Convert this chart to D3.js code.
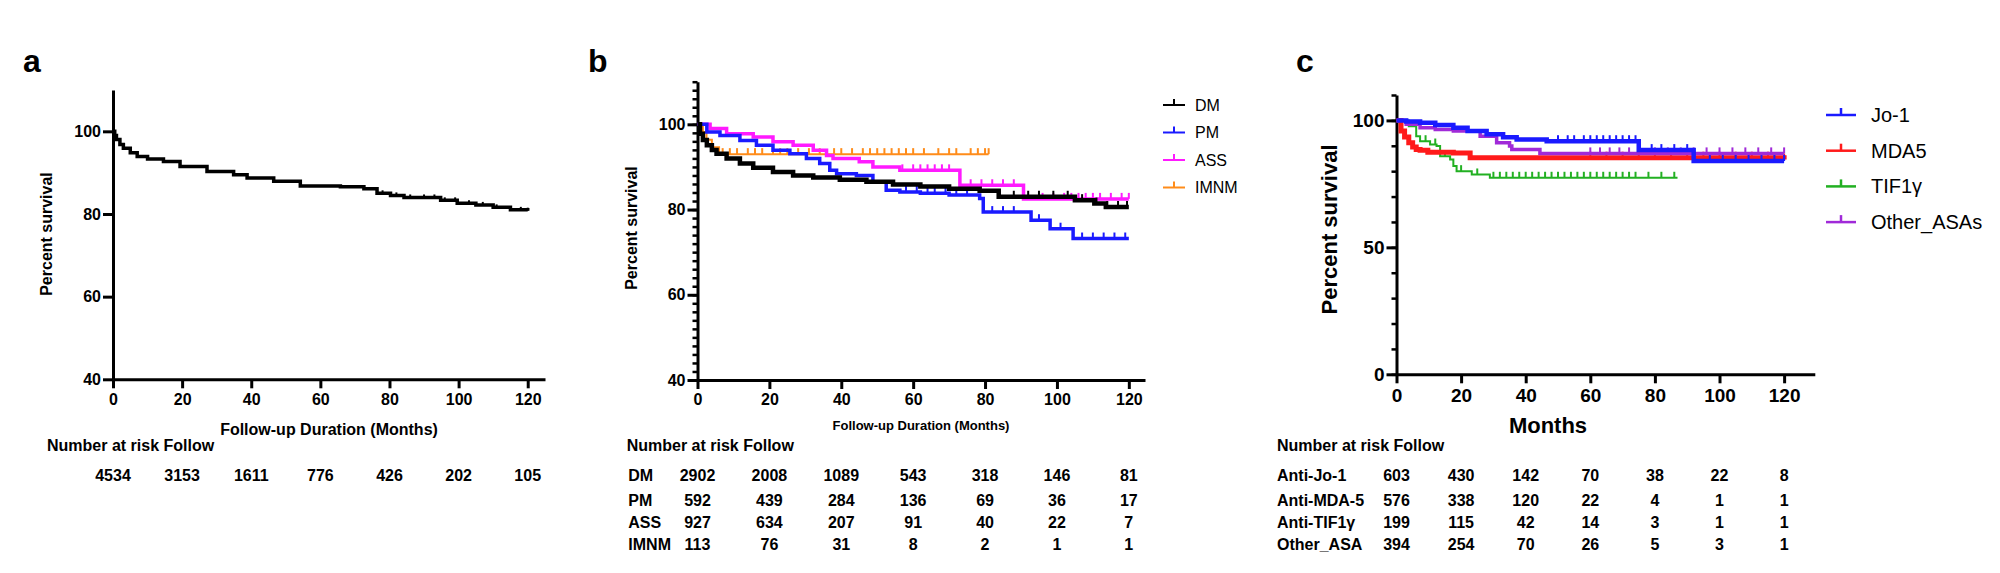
<!DOCTYPE html>
<html>
<head>
<meta charset="utf-8">
<style>
    body { margin: 0; background: #fff; }
    svg { font-family: 'Liberation Sans', Arial, Helvetica, sans-serif; }
    .axis path, .axis line { stroke: #000; stroke-width: 3px; }
    .minor line { stroke: #000; stroke-width: 2.5px; }
    .minor path { display: none; }
    .axis text { font-weight: bold; fill: #000; }
    .panel-letter { font-size: 32px; font-weight: bold; }
    .ytitle { font-weight: bold; }
    .risk { font-size: 16px; font-weight: bold; }
    .curve { fill: none; }
</style>
</head>
<body>
<svg width="2000" height="573"></svg>
<script src="https://d3js.org/d3.v7.min.js"></script>
<script>
    // ---------- data ----------
    let riskTimes = [0, 20, 40, 60, 80, 100, 120]

    // panel a: all patients
    let aTime = [0, 0.5, 1, 2, 3, 5, 7, 10, 14.6, 19.4, 27.2, 34.9, 38.8, 46.5, 54.2, 65.8, 72.6, 76.4, 80.3, 84.2, 91, 94.8, 99.6, 105, 110, 115, 120]
    let aSurv = [100, 99, 98, 96.8, 95.9, 94.8, 93.9, 93.3, 92.7, 91.5, 90.3, 89.5, 88.7, 87.9, 86.8, 86.6, 86.1, 85.0, 84.5, 84.0, 84.0, 83.3, 82.6, 82.2, 81.6, 81.0, 80.8]
    let aCens = [78, 82, 86, 90, 93, 96, 99, 103, 107, 111, 115, 118, 120]
    let aRisk = [4534, 3153, 1611, 776, 426, 202, 105]

    // panel b: subtypes
    let bGroups = ["DM", "PM", "ASS", "IMNM"]
    let bColors = ["#000000", "#1a1aff", "#ff1aff", "#ff8c1a"]
    let bWidths = [4.5, 3.5, 3.5, 2]
    let dmTime = [0, 0.7, 1.5, 2.6, 4, 5.3, 8.1, 11.8, 15.5, 21, 26.6, 32.2, 39.6, 47, 54.4, 62, 70, 78.5, 83.8, 94.4, 105, 110.4, 113.6, 120]
    let dmSurv = [100, 97.8, 96.3, 95.1, 94, 93.1, 92.0, 90.8, 89.8, 88.8, 88.0, 87.5, 87.0, 86.5, 85.9, 85.4, 84.9, 84.4, 83.0, 83.0, 82.2, 81.4, 80.6, 80.6]
    let pmTime = [0, 2.6, 6.25, 11.8, 16.4, 21, 25.7, 30.3, 34, 36.8, 38.7, 44.2, 48.8, 52.5, 56.3, 62, 70, 78.5, 79.5, 92.8, 98.1, 104.5, 120]
    let pmSurv = [100, 98.2, 97.4, 96.2, 95.1, 93.9, 93.1, 92.0, 90.8, 89.2, 88.4, 88.0, 86.5, 84.5, 84.1, 83.8, 83.4, 82.6, 79.4, 77.5, 75.5, 73.2, 73.2]
    let assTime = [0, 3.5, 8.1, 15.5, 21, 26.6, 32.2, 35.9, 37.7, 45, 48.8, 56.3, 73, 90.7, 120]
    let assSurv = [100, 99, 97.8, 97.0, 95.9, 95.1, 93.9, 92.7, 92.0, 91.2, 90.0, 89.2, 85.7, 82.5, 82.5]
    let imnmTime = [0, 1.5, 2.5, 4, 6, 81]
    let imnmSurv = [100, 98.2, 96.4, 94.6, 93.0, 93.0]
    let dmCens = [84, 88, 92, 95, 99, 103, 107, 111, 114, 117, 119.5]
    let pmCens = [58, 61, 64, 66, 69, 72, 75, 82, 85, 88, 95, 101, 107, 110, 113, 116, 119]
    let assCens = [57, 60, 62, 64, 66, 68, 70, 76, 79, 82, 85, 88, 96, 99, 102, 104, 106, 108, 110, 112, 115, 118, 120]
    let imnmCens = [7, 9, 11, 14, 16, 18, 21, 23, 25, 28, 31, 34, 38, 40, 43, 46, 48, 50, 52, 54, 56, 58, 60, 63, 67, 70, 72, 76, 78, 80, 81]
    let bRisk = [
        [2902, 2008, 1089, 543, 318, 146, 81],
        [592, 439, 284, 136, 69, 36, 17],
        [927, 634, 207, 91, 40, 22, 7],
        [113, 76, 31, 8, 2, 1, 1]
    ]

    // panel c: antibodies
    let cGroups = ["Jo-1", "MDA5", "TIF1γ", "Other_ASAs"]
    let cColors = ["#1a1aff", "#ff1a1a", "#22b022", "#a02ad8"]
    let cWidths = [4.5, 5, 2, 3.5]
    let joTime = [0, 3, 7.3, 12, 17.6, 22, 27.9, 33, 37.2, 46.5, 75, 92, 120]
    let joSurv = [100, 99.6, 99.1, 98.2, 97.1, 95.8, 94.5, 93.4, 92.5, 91.8, 88.3, 84.0, 84.0]
    let mdaTime = [0, 1.4, 2.5, 3.8, 5, 6.1, 7.3, 9.7, 17.6, 22.8, 120]
    let mdaSurv = [100, 95.8, 93.5, 91.2, 89.5, 88.5, 88.2, 87.5, 87.2, 85.3, 84.6]
    let tifTime = [0, 3.8, 6.1, 7.3, 10.4, 12.4, 13.5, 16.6, 17.6, 18.6, 23.3, 28.9, 87]
    let tifSurv = [100, 97.7, 93.8, 91.8, 90.5, 89.9, 85.9, 84.6, 82, 80, 78.7, 77.4, 77.4]
    let othTime = [0, 3, 7.3, 12, 17.6, 25.9, 31, 35, 35.7, 44.4, 120]
    let othSurv = [100, 98.5, 97.1, 96.4, 95.8, 93.8, 91.2, 89.9, 88.5, 87.0, 87.0]
    let joCens = [50, 53, 55, 58, 60, 62, 64, 66, 68, 70, 72, 74, 79, 82, 86, 90, 97, 101, 105, 109, 113, 117, 120]
    let mdaCens = [60, 65, 70, 75, 80, 85, 90, 95, 100, 105, 110, 115, 120]
    let tifCens = [9, 12, 15, 20, 25, 30, 32, 34, 36, 38, 40, 42, 44, 46, 48, 50, 52, 54, 56, 58, 60, 62, 64, 66, 68, 70, 72, 74, 78, 82, 86]
    let othCens = [60, 63, 66, 69, 72, 75, 80, 84, 88, 92, 96, 100, 104, 108, 112, 116, 120]
    let cRiskLabels = ["Anti-Jo-1", "Anti-MDA-5", "Anti-TIF1γ", "Other_ASA"]
    let cRisk = [
        [603, 430, 142, 70, 38, 22, 8],
        [576, 338, 120, 22, 4, 1, 1],
        [199, 115, 42, 14, 3, 1, 1],
        [394, 254, 70, 26, 5, 3, 1]
    ]

    // ---------- drawing ----------
    let svg = d3.select("svg")

    function stepAt(times, surv, t) {
        let i = d3.bisectRight(times, t) - 1
        return surv[Math.max(0, i)]
    }

    function drawCurve(g, x, y, times, surv, cens, color, width, tickLen) {
        let pts = times.map((t, i) => [t, surv[i]])
        let line = d3.line()
            .x(d => x(d[0]))
            .y(d => y(d[1]))
            .curve(d3.curveStepAfter)
        g.append("path")
            .attr("class", "curve")
            .attr("d", line(pts))
            .attr("stroke", color)
            .attr("stroke-width", width)
        g.append("g")
            .selectAll("line")
            .data(cens)
            .join("line")
            .attr("x1", d => x(d))
            .attr("x2", d => x(d))
            .attr("y1", d => y(stepAt(times, surv, d)))
            .attr("y2", d => y(stepAt(times, surv, d)) - tickLen)
            .attr("stroke", color)
            .attr("stroke-width", 2)
    }

    function drawAxes(x, y, yTicks, yMinor, fontSize) {
        let xAxis = svg.append("g")
            .attr("class", "axis")
            .attr("transform", `translate(0,${y.range()[0]})`)
            .call(d3.axisBottom(x).tickValues(riskTimes).tickSize(9).tickSizeOuter(0).tickPadding(5))
        xAxis.selectAll("text").style("font-size", fontSize + "px")

        if (yMinor) {
            svg.append("g")
                .attr("class", "minor")
                .attr("transform", `translate(${x.range()[0]},0)`)
                .call(d3.axisLeft(y).tickValues(yMinor).tickSize(5).tickSizeOuter(0).tickFormat(""))
        }
        let yAxis = svg.append("g")
            .attr("class", "axis")
            .attr("transform", `translate(${x.range()[0]},0)`)
            .call(d3.axisLeft(y).tickValues(yTicks).tickSize(10).tickSizeOuter(0).tickPadding(2))
        yAxis.selectAll("text").style("font-size", fontSize + "px")
    }

    function yTitle(cx, cy, size) {
        svg.append("text")
            .attr("class", "ytitle")
            .attr("transform", `translate(${cx},${cy}) rotate(-90)`)
            .attr("text-anchor", "middle")
            .attr("dominant-baseline", "central")
            .style("font-size", size + "px")
            .text("Percent survival")
    }

    function letter(px, txt) {
        svg.append("text").attr("class", "panel-letter").attr("x", px).attr("y", 72).text(txt)
    }

    let rowY = [481, 505.7, 528.3, 550]

    function riskTable(x, titleX, labelX, labels, rows) {
        svg.append("text").attr("class", "risk").attr("x", titleX).attr("y", 451).text("Number at risk Follow")
        rows.forEach((row, r) => {
            if (labels) {
                svg.append("text").attr("class", "risk").attr("x", labelX).attr("y", rowY[r]).text(labels[r])
            }
            svg.append("g")
                .selectAll("text")
                .data(row)
                .join("text")
                .attr("class", "risk")
                .attr("x", (d, i) => x(riskTimes[i]))
                .attr("y", rowY[r])
                .attr("text-anchor", "middle")
                .text(d => d)
        })
    }

    // ----- panel a -----
    let xa = d3.scaleLinear().domain([0, 125]).range([113, 545])
    let ya = d3.scaleLinear().domain([40, 110]).range([379.3, 90])
    drawAxes(xa, ya, [40, 60, 80, 100], null, 16)
    drawCurve(svg.append("g"), xa, ya, aTime, aSurv, aCens, "#000", 3.5, 3)
    letter(23, "a")
    yTitle(46.5, 234, 16)
    svg.append("text").attr("x", 329).attr("y", 435).attr("text-anchor", "middle")
        .style("font-size", "16px").style("font-weight", "bold").text("Follow-up Duration (Months)")
    riskTable(xa, 47, 47, null, [aRisk])

    // ----- panel b -----
    let xb = d3.scaleLinear().domain([0, 124.5]).range([697.5, 1145])
    let yb = d3.scaleLinear().domain([40, 110]).range([380, 81.7])
    drawAxes(xb, yb, [40, 60, 80, 100], d3.range(40, 111, 2), 16)
    let bSeries = [
        [dmTime, dmSurv, dmCens],
        [pmTime, pmSurv, pmCens],
        [assTime, assSurv, assCens],
        [imnmTime, imnmSurv, imnmCens]
    ]
    let gb = svg.append("g")
    // IMNM underneath, DM on top, as in the figure
    ;[3, 2, 1, 0].forEach(i => {
        drawCurve(gb, xb, yb, bSeries[i][0], bSeries[i][1], bSeries[i][2], bColors[i], bWidths[i], 6)
    })
    letter(588, "b")
    yTitle(631.5, 228, 16)
    svg.append("text").attr("x", 921).attr("y", 430).attr("text-anchor", "middle")
        .style("font-size", "13px").style("font-weight", "bold").text("Follow-up Duration (Months)")
    riskTable(xb, 626.7, 628.3, bGroups, bRisk)

    // legend b
    let legB = svg.append("g").selectAll("g").data(bGroups).join("g")
        .attr("transform", (d, i) => `translate(1163,${105 + i * 27.5})`)
    legB.append("line").attr("x1", 0).attr("x2", 22).attr("y1", 0).attr("y2", 0)
        .attr("stroke", (d, i) => bColors[i]).attr("stroke-width", 2)
    legB.append("line").attr("x1", 11).attr("x2", 11).attr("y1", 0).attr("y2", -6)
        .attr("stroke", (d, i) => bColors[i]).attr("stroke-width", 2)
    legB.append("text").attr("x", 32).attr("dominant-baseline", "central")
        .style("font-size", "16px").text(d => d)

    // ----- panel c -----
    let xc = d3.scaleLinear().domain([0, 129.5]).range([1396.5, 1814.8])
    let yc = d3.scaleLinear().domain([0, 110]).range([374.3, 95])
    drawAxes(xc, yc, [0, 50, 100], d3.range(0, 111, 10), 19)
    let cSeries = [
        [joTime, joSurv, joCens],
        [mdaTime, mdaSurv, mdaCens],
        [tifTime, tifSurv, tifCens],
        [othTime, othSurv, othCens]
    ]
    let gc = svg.append("g")
    ;[2, 1, 3, 0].forEach(i => {
        drawCurve(gc, xc, yc, cSeries[i][0], cSeries[i][1], cSeries[i][2], cColors[i], cWidths[i], 6)
    })
    letter(1296, "c")
    yTitle(1329, 229.5, 22)
    svg.append("text").attr("x", 1548).attr("y", 433).attr("text-anchor", "middle")
        .style("font-size", "22px").style("font-weight", "bold").text("Months")
    riskTable(xc, 1277, 1277, cRiskLabels, cRisk)

    // legend c
    let legC = svg.append("g").selectAll("g").data(cGroups).join("g")
        .attr("transform", (d, i) => `translate(1826,${115 + i * 35.7})`)
    legC.append("line").attr("x1", 0).attr("x2", 30).attr("y1", 0).attr("y2", 0)
        .attr("stroke", (d, i) => cColors[i]).attr("stroke-width", 2.5)
    legC.append("line").attr("x1", 15).attr("x2", 15).attr("y1", 0).attr("y2", -7)
        .attr("stroke", (d, i) => cColors[i]).attr("stroke-width", 2.5)
    legC.append("text").attr("x", 45).attr("dominant-baseline", "central")
        .style("font-size", "20px").text(d => d)
</script>
</body>
</html>
